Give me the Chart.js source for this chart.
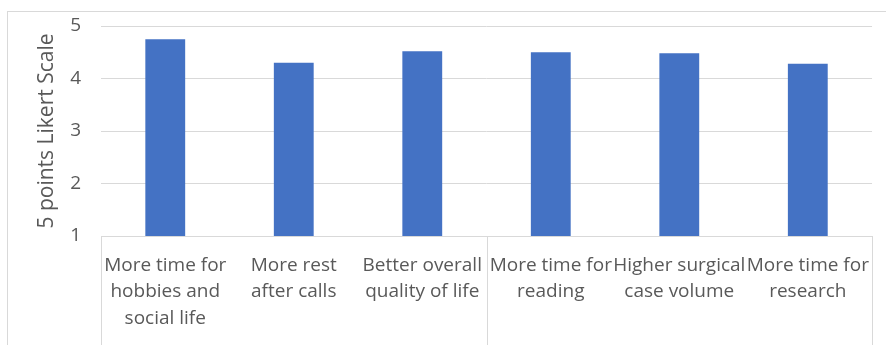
<!DOCTYPE html>
<html>
<head>
<meta charset="utf-8">
<script src="https://cdn.jsdelivr.net/npm/chart.js@4/dist/chart.umd.min.js"></script>
<style>
  html, body { margin: 0; padding: 0; background: #ffffff; }
  #wrap { width: 886px; height: 345px; position: relative; }
</style>
</head>
<body>
<div id="wrap"><canvas id="c" width="886" height="345"></canvas></div>
<script>
// Survey categories (multi-line labels) and mean Likert scores
const categories = [
  ["More time for", "hobbies and", "social life"],
  ["More rest", "after calls"],
  ["Better overall", "quality of life"],
  ["More time for", "reading"],
  ["Higher surgical", "case volume"],
  ["More time for", "research"]
];
const meanScores = [4.75, 4.30, 4.52, 4.50, 4.48, 4.28];
const yTicks = [1, 2, 3, 4, 5];
const yTitle = "5 points Likert Scale";

const GRID = "#d9d9d9";
const TEXT = "#595959";
const FONT = "'Open Sans', 'Liberation Sans', sans-serif";

// Outer frame plus the boxed category band below the axis
const framePlugin = {
  id: "frame",
  beforeDraw(chart) {
    const ctx = chart.ctx;
    ctx.save();
    ctx.strokeStyle = GRID;
    ctx.lineWidth = 1;
    ctx.strokeRect(7.5, 11.5, chart.width + 10, chart.height + 10);
    ctx.restore();
  },
  afterDraw(chart) {
    const x = chart.scales.x;
    const ctx = chart.ctx;
    const n = categories.length;
    const step = (x.right - x.left) / n;
    ctx.save();
    ctx.strokeStyle = GRID;
    ctx.lineWidth = 1;
    // group boundaries: start, middle, end of the category axis
    [0, 3, 6].forEach(i => {
      const px = Math.round(x.getPixelForTick(Math.min(i, n - 1)) + (i === n ? step / 2 : -step / 2)) + 0.5;
      ctx.beginPath();
      ctx.moveTo(px, x.top);
      ctx.lineTo(px, chart.height);
      ctx.stroke();
    });
    ctx.restore();
  }
};

new Chart(document.getElementById("c"), {
  type: "bar",
  data: {
    labels: categories,
    datasets: [{
      data: meanScores,
      backgroundColor: "#4472c4",
      borderWidth: 0,
      categoryPercentage: 1.0,
      barPercentage: 0.31
    }]
  },
  options: {
    responsive: false,
    animation: false,
    layout: { padding: { top: 26, left: 0, right: 13, bottom: 0 } },
    plugins: { legend: { display: false }, tooltip: { enabled: false } },
    scales: {
      x: {
        offset: true,
        grid: { display: false, drawTicks: false },
        border: { display: true, color: GRID, width: 1 },
        ticks: {
          color: TEXT,
          font: { family: FONT, size: 19, lineHeight: 1.4 },
          maxRotation: 0,
          minRotation: 0,
          autoSkip: false,
          padding: 16
        },
        afterFit(scale) { scale.height = 109; }
      },
      y: {
        min: 1,
        max: 5,
        afterBuildTicks(scale) { scale.ticks = yTicks.map(v => ({ value: v })); },
        grid: { color: GRID, lineWidth: 1, drawTicks: false },
        border: { display: false },
        ticks: {
          color: TEXT,
          font: { family: FONT, size: 19 },
          padding: 20
        },
        title: {
          display: true,
          text: yTitle,
          color: TEXT,
          font: { family: FONT, size: 21 },
          padding: { top: 34, bottom: 0 }
        },
        afterFit(scale) {
          scale.width = 101;
          // plot area top is set by the layout padding alone
          scale.paddingTop = 0;
          scale.paddingBottom = 0;
        }
      }
    }
  },
  plugins: [framePlugin]
});
</script>
</body>
</html>
